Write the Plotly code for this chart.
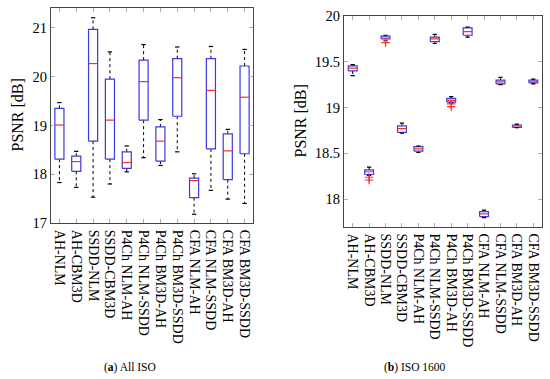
import plotly.graph_objects as go

methods = ["AH-NLM", "AH-CBM3D", "SSDD-NLM", "SSDD-CBM3D", "P4Ch NLM-AH",
           "P4Ch NLM-SSDD", "P4Ch BM3D-AH", "P4Ch BM3D-SSDD", "CFA NLM-AH",
           "CFA NLM-SSDD", "CFA BM3D-AH", "CFA BM3D-SSDD"]

# (a) All ISO
a_low = [17.83, 17.73, 17.53, 17.80, 18.05, 18.34, 18.18, 18.46, 17.18, 17.67, 17.49, 17.40]
a_q1 = [18.31, 18.06, 18.68, 18.31, 18.12, 19.11, 18.27, 19.19, 17.52, 18.52, 17.89, 18.42]
a_med = [19.01, 18.26, 20.27, 19.11, 18.24, 19.90, 18.68, 19.98, 17.87, 19.72, 18.48, 19.58]
a_q3 = [19.35, 18.37, 20.97, 19.95, 18.46, 20.34, 18.97, 20.37, 17.92, 20.37, 18.83, 20.22]
a_high = [19.47, 18.47, 21.21, 20.51, 18.58, 20.66, 19.12, 20.61, 18.01, 20.62, 18.92, 20.56]

# (b) ISO 1600
b_low = [19.35, 18.26, 19.73, 18.72, 18.51, 19.70, 19.05, 19.77, 17.80, 19.25, 18.78, 19.26]
b_q1 = [19.40, 18.27, 19.75, 18.73, 18.525, 19.72, 19.06, 19.79, 17.81, 19.26, 18.785, 19.27]
b_med = [19.43, 18.30, 19.76, 18.77, 18.55, 19.75, 19.08, 19.83, 17.84, 19.28, 18.80, 19.28]
b_q3 = [19.455, 18.32, 19.78, 18.80, 18.575, 19.77, 19.10, 19.87, 17.865, 19.30, 18.81, 19.30]
b_high = [19.47, 18.35, 19.79, 18.83, 18.58, 19.80, 19.12, 19.88, 17.88, 19.33, 18.82, 19.31]
b_out_idx = [2, 2, 3, 7, 7]
b_out_val = [18.24, 18.21, 19.71, 19.04, 19.01]

BOX_HW = 0.27
CAP_HW = 0.13
FONT = "Liberation Serif"


def add_boxes(fig, low, q1, med, q3, high, xa, ya, out_idx=None, out_val=None):
    wx, wy, bx, by, cx, cy, mx, my = [], [], [], [], [], [], [], []
    for i in range(len(methods)):
        p = i + 1
        wx += [p, p, None, p, p, None]
        wy += [q3[i], high[i], None, q1[i], low[i], None]
        bx += [p - BOX_HW, p + BOX_HW, p + BOX_HW, p - BOX_HW, p - BOX_HW, None]
        by += [q1[i], q1[i], q3[i], q3[i], q1[i], None]
        cx += [p - CAP_HW, p + CAP_HW, None, p - CAP_HW, p + CAP_HW, None]
        cy += [high[i], high[i], None, low[i], low[i], None]
        mx += [p - BOX_HW, p + BOX_HW, None]
        my += [med[i], med[i], None]
    common = dict(xaxis=xa, yaxis=ya, showlegend=False, hoverinfo="skip", mode="lines")
    fig.add_trace(go.Scatter(x=wx, y=wy, line=dict(color="black", width=1, dash="3px,3px"), **common))
    fig.add_trace(go.Scatter(x=bx, y=by, fill="toself", fillcolor="white",
                             line=dict(color="#3a3ae0", width=1.2), **common))
    fig.add_trace(go.Scatter(x=cx, y=cy, line=dict(color="black", width=1.2), **common))
    fig.add_trace(go.Scatter(x=mx, y=my, line=dict(color="#ff2a2a", width=1.2), **common))
    if out_idx:
        fig.add_trace(go.Scatter(x=out_idx, y=out_val, mode="markers", xaxis=xa, yaxis=ya,
                                 showlegend=False, hoverinfo="skip",
                                 marker=dict(symbol="cross-thin", size=6,
                                             line=dict(color="#ff2a2a", width=1.2))))


fig = go.Figure()
add_boxes(fig, a_low, a_q1, a_med, a_q3, a_high, "x", "y")
add_boxes(fig, b_low, b_q1, b_med, b_q3, b_high, "x2", "y2", b_out_idx, b_out_val)

ax_common = dict(showline=True, linecolor="#444444", linewidth=1, mirror="allticks",
                 ticks="inside", ticklen=4, tickcolor="#b0b0b0", showgrid=False,
                 zeroline=False, automargin=False)
xticks = dict(tickmode="array", tickvals=list(range(1, 13)), ticktext=methods,
              tickangle=90, tickfont=dict(family=FONT, size=14, color="black"),
              ticklabelstandoff=3)

ann_common = dict(xref="paper", yref="paper", showarrow=False, xanchor="center", yanchor="middle")

fig.update_layout(
    width=550, height=379,
    margin=dict(l=0, r=0, t=0, b=0),
    paper_bgcolor="white", plot_bgcolor="white",
    xaxis=dict(domain=[51 / 550, 253 / 550], range=[0.5, 12.5], anchor="y", **xticks, **ax_common),
    yaxis=dict(domain=[1 - 223 / 379, 1 - 8 / 379], range=[17, 21.41], anchor="x",
               tickvals=[17, 18, 19, 20, 21],
               tickfont=dict(family=FONT, size=14.5, color="black"), **ax_common),
    xaxis2=dict(domain=[344 / 550, 542 / 550], range=[0.47, 12.53], anchor="y2", **xticks, **ax_common),
    yaxis2=dict(domain=[1 - 226.7 / 379, 1 - 16 / 379], range=[17.70, 20.0], anchor="x2",
                tickvals=[18, 18.5, 19, 19.5, 20], ticktext=["18", "18.5", "19", "19.5", "20"],
                tickfont=dict(family=FONT, size=14.5, color="black"), **ax_common),
    annotations=[
        dict(text="PSNR [dB]", x=17 / 550, y=1 - 115.5 / 379, textangle=-90,
             font=dict(family=FONT, size=16, color="black"), **ann_common),
        dict(text="PSNR [dB]", x=300 / 550, y=1 - 121.5 / 379, textangle=-90,
             font=dict(family=FONT, size=16, color="black"), **ann_common),
        dict(text="(<b>a</b>) All ISO", x=129.5 / 550, y=1 - 367 / 379,
             font=dict(family=FONT, size=11.5, color="black"), **ann_common),
        dict(text="(<b>b</b>) ISO 1600", x=415 / 550, y=1 - 367 / 379,
             font=dict(family=FONT, size=11.5, color="black"), **ann_common),
    ],
)

fig.write_html("out.html", config={"displayModeBar": False},
               post_script="document.body.style.margin='0';document.body.style.overflow='hidden';")
